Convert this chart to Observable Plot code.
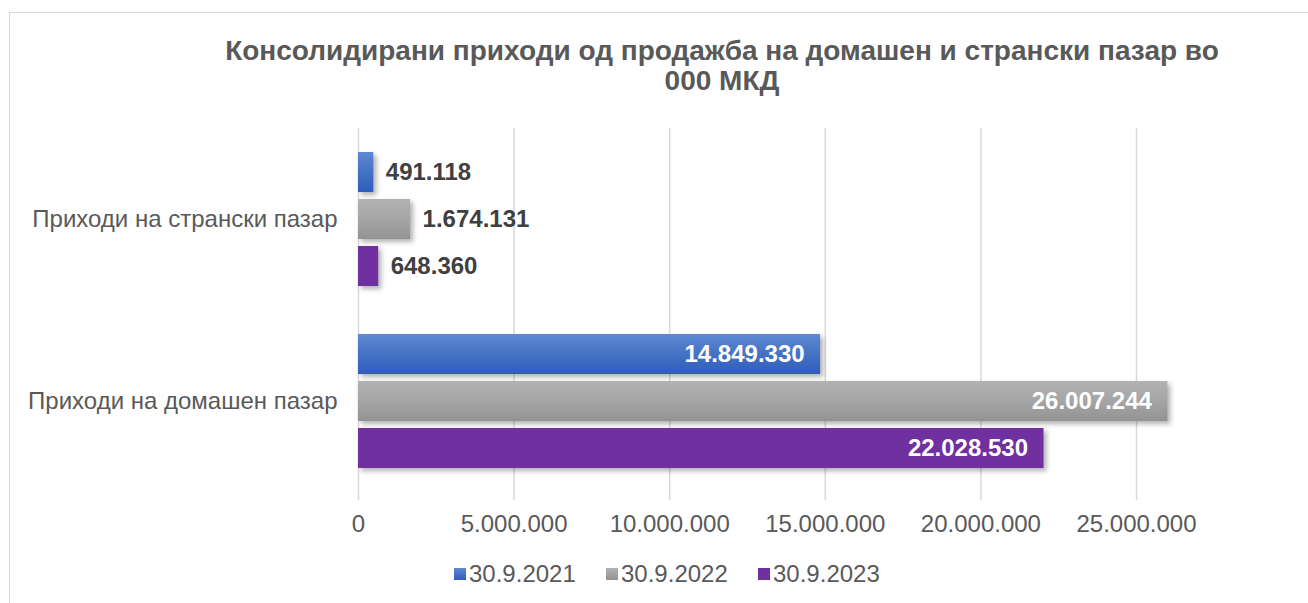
<!DOCTYPE html>
<html>
<head>
<meta charset="utf-8">
<script src="https://cdn.jsdelivr.net/npm/d3@7"></script>
<script src="https://cdn.jsdelivr.net/npm/@observablehq/plot@0.6"></script>
<style>
  html, body { margin: 0; padding: 0; background: #fff; }
  body { width: 1308px; height: 603px; position: relative; overflow: hidden; font-family: "Liberation Sans", Arial, sans-serif; }
  #frame { position: absolute; left: 9px; top: 12px; width: 1400px; height: 700px; border: 1.5px solid #d9d9d9; box-sizing: border-box; }
  #title { position: absolute; left: 0; top: 36px; width: 1444px; text-align: center; font-weight: bold; font-size: 28px; line-height: 30px; color: #595959; }
  #chart { position: absolute; left: 0; top: 0; }
  #legend { position: absolute; left: 454px; top: 560px; display: flex; gap: 0; font-size: 24px; color: #595959; line-height: 28px; }
  .item { display: flex; align-items: center; width: 152px; }
  .sw { width: 12px; height: 12px; margin-right: 3px; }
</style>
</head>
<body>
<svg width="0" height="0" style="position:absolute">
  <defs>
    <linearGradient id="gBlue" x1="0" y1="0" x2="0" y2="1">
      <stop offset="0" stop-color="#6088d3"/>
      <stop offset="0.5" stop-color="#4472c4"/>
      <stop offset="1" stop-color="#2f5dbd"/>
    </linearGradient>
    <linearGradient id="gGray" x1="0" y1="0" x2="0" y2="1">
      <stop offset="0" stop-color="#b2b2b2"/>
      <stop offset="0.5" stop-color="#a5a5a5"/>
      <stop offset="1" stop-color="#939393"/>
    </linearGradient>
    <linearGradient id="gPurple" x1="0" y1="0" x2="0" y2="1">
      <stop offset="0" stop-color="#7030a0"/>
      <stop offset="1" stop-color="#7030a0"/>
    </linearGradient>
  </defs>
</svg>
<div id="frame"></div>
<div id="title">Консолидирани приходи од продажба на домашен и странски пазар во<br>000 МКД</div>
<div id="chart"></div>
<div id="legend"></div>
<script>
// ---- data ----
const categories = ["Приходи на странски пазар", "Приходи на домашен пазар"];
const series = ["30.9.2021", "30.9.2022", "30.9.2023"];
const foreignValues = [491118, 1674131, 648360];
const domesticValues = [14849330, 26007244, 22028530];
const xTicks = [0, 5000000, 10000000, 15000000, 20000000, 25000000];
const seriesFills = ["url(#gBlue)", "url(#gGray)", "url(#gPurple)"];
const legendSwatches = ["linear-gradient(#6088d3,#2f5dbd)", "linear-gradient(#b2b2b2,#939393)", "#7030a0"];

const mk = (cat, vals) => vals.map((v, i) => ({category: cat, series: series[i], value: v, fill: seriesFills[i]}));
const foreign = mk(categories[0], foreignValues);
const domestic = mk(categories[1], domesticValues);
const all = foreign.concat(domestic);

const fmt = d3.formatLocale({decimal: ",", thousands: ".", grouping: [3], currency: ["", ""]}).format(",d");

const chart = Plot.plot({
  width: 1308,
  height: 603,
  marginLeft: 358,
  marginRight: 172,
  marginTop: 128,
  marginBottom: 111,
  style: {fontFamily: "'Liberation Sans', Arial, sans-serif", background: "transparent", overflow: "visible"},
  x: {domain: [0, 25000000]},
  fy: {domain: categories, padding: 0, label: null},
  y: {domain: series, paddingInner: 0.146, paddingOuter: 0.47, axis: null},
  color: {type: "identity"},
  marks: [
    Plot.gridX(xTicks, {stroke: "#d9d9d9", strokeOpacity: 1, strokeWidth: 1.5}),
    Plot.axisX(xTicks, {tickSize: 8, tickPadding: 14, stroke: "#d9d9d9", strokeOpacity: 1, strokeWidth: 1.5,
      tickFormat: d => d === 0 ? "0" : fmt(d), fontSize: 24, fill: "#595959", label: null}),
    Plot.axisFy({anchor: "left", tickSize: 0, tickPadding: 21, fontSize: 24, fill: "#595959", label: null}),
    Plot.barX(all, {x: "value", y: "series", fy: "category", fill: "fill",
      imageFilter: "drop-shadow(3px 3px 2.5px rgba(0,0,0,0.3))"}),
    Plot.text(foreign, {x: "value", y: "series", fy: "category", text: d => fmt(d.value),
      textAnchor: "start", dx: 12, fill: "#404040", fontWeight: "bold", fontSize: 24}),
    Plot.text(domestic, {x: "value", y: "series", fy: "category", text: d => fmt(d.value),
      textAnchor: "end", dx: -16, fill: "#ffffff", fontWeight: "bold", fontSize: 24})
  ]
});
document.getElementById("chart").appendChild(chart);

const legend = document.getElementById("legend");
series.forEach((s, i) => {
  const it = document.createElement("div");
  it.className = "item";
  const sw = document.createElement("div");
  sw.className = "sw";
  sw.style.background = legendSwatches[i];
  const t = document.createElement("span");
  t.textContent = s;
  it.appendChild(sw); it.appendChild(t);
  legend.appendChild(it);
});
</script>
</body>
</html>
